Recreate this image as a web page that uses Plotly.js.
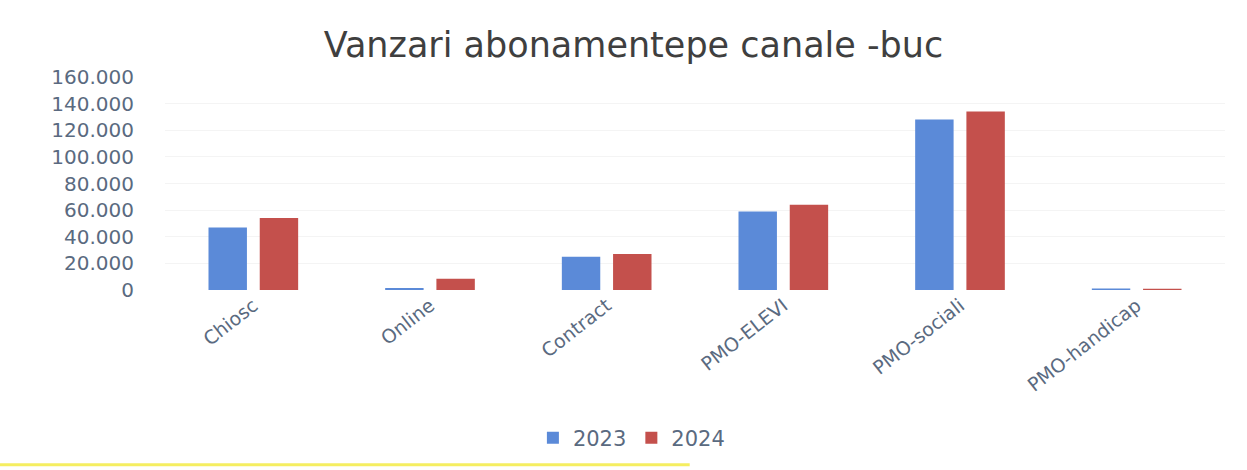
<!DOCTYPE html>
<html><head><meta charset="utf-8">
<script src="https://cdn.plot.ly/plotly-3.0.1.min.js"></script>
<style>html,body{margin:0;padding:0;background:#fff}#chart{width:1247px;height:470px}</style>
</head><body><div id="chart"></div>
<script>
const categories = ["Chiosc", "Online", "Contract", "PMO-ELEVI", "PMO-sociali", "PMO-handicap"];
const values2023 = [47000, 1500, 25000, 59000, 128000, 1200];
const values2024 = [54000, 8500, 27000, 64000, 134000, 1000];
const tickVals = [0, 20000, 40000, 60000, 80000, 100000, 120000, 140000, 160000];
const tickText = ["0", "20.000", "40.000", "60.000", "80.000", "100.000", "120.000", "140.000", "160.000"];

const data = [
  {type: "bar", name: "2023", x: categories, y: values2023, marker: {color: "#5b8ad8"}},
  {type: "bar", name: "2024", x: categories, y: values2024, marker: {color: "#c4504c"}}
];
const layout = {
  width: 1247, height: 470,
  margin: {l: 165, r: 22, t: 77, b: 180},
  paper_bgcolor: "#ffffff", plot_bgcolor: "#ffffff",
  font: {family: "DejaVu Sans, sans-serif", color: "#5a6a80"},
  title: {text: "Vanzari abonamentepe canale -buc", x: 0.508, xanchor: "center", y: 0.905, yanchor: "middle",
          font: {size: 35, color: "#3f3f3f", family: "DejaVu Sans, sans-serif"}},
  barmode: "group", bargap: 0.42, bargroupgap: 0.25,
  xaxis: {tickangle: -38, tickfont: {size: 19, color: "#5a6a80"}, showline: false, ticks: "", showgrid: false},
  yaxis: {range: [0, 160000], tickvals: tickVals, ticktext: tickText, tickfont: {size: 20, color: "#5a6a80"},
          showgrid: true, gridcolor: "#f4f4f4", zeroline: false, ticks: "", ticklabelstandoff: 30},
  legend: {orientation: "h", x: 0.44, xanchor: "center", y: -0.695, yanchor: "middle", font: {size: 21, color: "#5a6a80"}},
  shapes: [{type: "line", xref: "paper", yref: "paper", x0: -0.16, x1: 0.495, y0: -0.82, y1: -0.82,
            line: {color: "#f5ee60", width: 3}}]
};
Plotly.newPlot("chart", data, layout, {displayModeBar: false, staticPlot: true});
</script></body></html>
